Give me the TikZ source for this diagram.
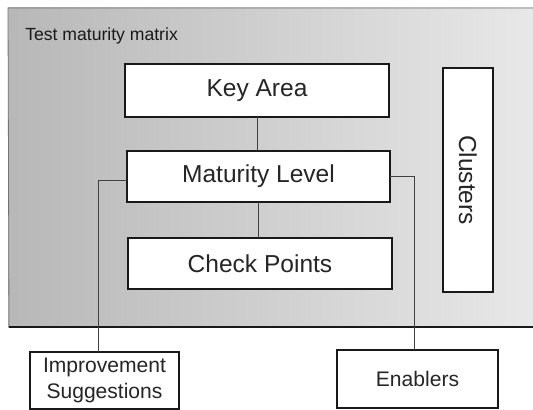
\documentclass[tikz,border=0pt]{standalone}
\usepackage{fontspec}
\setmainfont{Liberation Sans}
\usepackage{graphicx}
\begin{document}
\begin{tikzpicture}[x=0.75pt,y=-0.75pt,
  box/.style={draw=black!90,line width=1.6pt,fill=white,inner sep=0pt,outer sep=0pt,text=black!85},
  bigtxt/.style={font=\fontsize{18.4pt}{22pt}\selectfont},
  midtxt/.style={font=\fontsize{15.8pt}{20pt}\selectfont},
  link/.style={draw=black!75,line width=0.6pt}]
\useasboundingbox (0,0) rectangle (533,410);
% frame
\shade[left color=black!28,right color=black!9] (8,8) rectangle (533,327);
\draw[black!55,line width=0.6pt] (533,8) -- (8,8) -- (9,327);
\draw[black!90,line width=1.6pt] (9,327) -- (533,327);
\node[anchor=base west,inner sep=0pt,text=black!90,font=\fontsize{13.2pt}{16pt}\selectfont] (title) at (25,41) {Test maturity matrix};
% boxes
\node[box,bigtxt,minimum width={264*0.75pt},minimum height={53*0.75pt}] (key) at (257,90.5) {Key Area};
\node[box,bigtxt,minimum width={263*0.75pt},minimum height={51*0.75pt}] (mat) at (258.5,176.5) {Maturity Level};
\node[box,bigtxt,minimum width={264*0.75pt},minimum height={51*0.75pt}] (chk) at (260,263.5) {Check Points};
\node[box,bigtxt,minimum width={50*0.75pt},minimum height={224*0.75pt}] (clu) at (468,180) {\rotatebox{-90}{Clusters}};
\node[box,midtxt,align=center,minimum width={149*0.75pt},minimum height={57*0.75pt}] (imp) at (104.5,380.5) {Improvement\\[-1pt]Suggestions};
\node[box,midtxt,minimum width={161*0.75pt},minimum height={58*0.75pt}] (ena) at (417.5,379) {Enablers};
% connectors
\coordinate (lc) at (98,180);
\coordinate (rc) at (414,176);
\draw[link] (key.south) -- (key.south |- mat.north);
\draw[link] (mat.south) -- (chk.north -| mat.south);
\draw[link] (mat.west |- lc) -- (lc) -- (lc |- imp.north);
\draw[link] (mat.east |- rc) -- (rc) -- (rc |- ena.north);
\end{tikzpicture}
\end{document}
